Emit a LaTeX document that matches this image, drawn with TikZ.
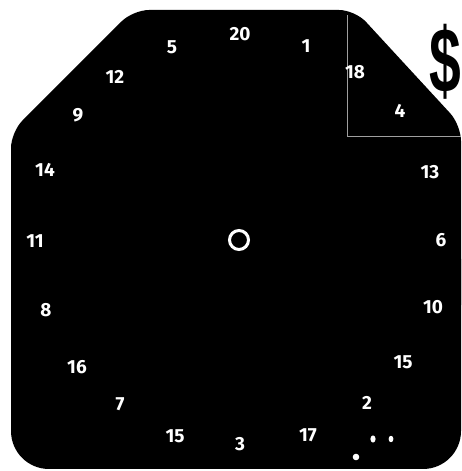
\documentclass[tikz,border=0pt]{standalone}
\usepackage{fontspec}
\setmainfont{Fira Sans}
\newfontfamily\dollarfont{Liberation Sans}
\begin{document}
\begin{tikzpicture}[x=1pt,y=1pt,
  num/.style={text=white,font=\fontsize{19}{19}\selectfont\bfseries,inner sep=0pt},
  dotmark/.style={fill=white}]
\useasboundingbox (0,0) rectangle (461,471);
\fill[white] (0,0) rectangle (461,471);
% board
\fill[black,rounded corners=16] (11,150) -- (11,339) -- (133,461) -- (355,461) -- (461,346) -- (461,150) -- cycle;
\fill[black,rounded corners=38] (11,2) rectangle (461,250);
% thin frame top right
\coordinate (f1) at (347,456);
\coordinate (f2) at (347,335);
\coordinate (f3) at (461,335);
\draw[gray!75,line width=0.8] (f1) -- (f2) -- (f3);
% dollar sign
\node[text=black,font=\dollarfont\fontsize{92}{92}\selectfont\bfseries,xscale=0.62,inner sep=0pt] (dollar) at (445,409) {\$};
% bullseye
\node[circle,draw=white,line width=3,minimum size=19,inner sep=0pt] (bull) at (239,231) {};
% numbers
\node[num] (n20) at (240,437) {20};
\node[num] (n1)  at (306,425) {1};
\node[num] (n18) at (355,399) {18};
\node[num] (n4)  at (400,360) {4};
\node[num] (n13) at (430,299) {13};
\node[num] (n6)  at (441,231) {6};
\node[num] (n10) at (433,164) {10};
\node[num] (n15a) at (403,109) {15};
\node[num] (n2)  at (367,68) {2};
\node[num] (n17) at (308,36) {17};
\node[num] (n3)  at (240,27) {3};
\node[num] (n15b) at (175,35) {15};
\node[num] (n7)  at (120,67) {7};
\node[num] (n16) at (77,104) {16};
\node[num] (n8)  at (46,161) {8};
\node[num] (n11) at (35,230) {11};
\node[num] (n14) at (45,301) {14};
\node[num] (n9)  at (78,356) {9};
\node[num] (n12) at (115,394) {12};
\node[num] (n5)  at (172,424) {5};
% small dots
\fill[dotmark] (373,32) ellipse (2.6 and 3.6);
\fill[dotmark] (391,32) ellipse (2.4 and 3.2);
\fill[dotmark] (356,14) circle (3.3);
\end{tikzpicture}
\end{document}
